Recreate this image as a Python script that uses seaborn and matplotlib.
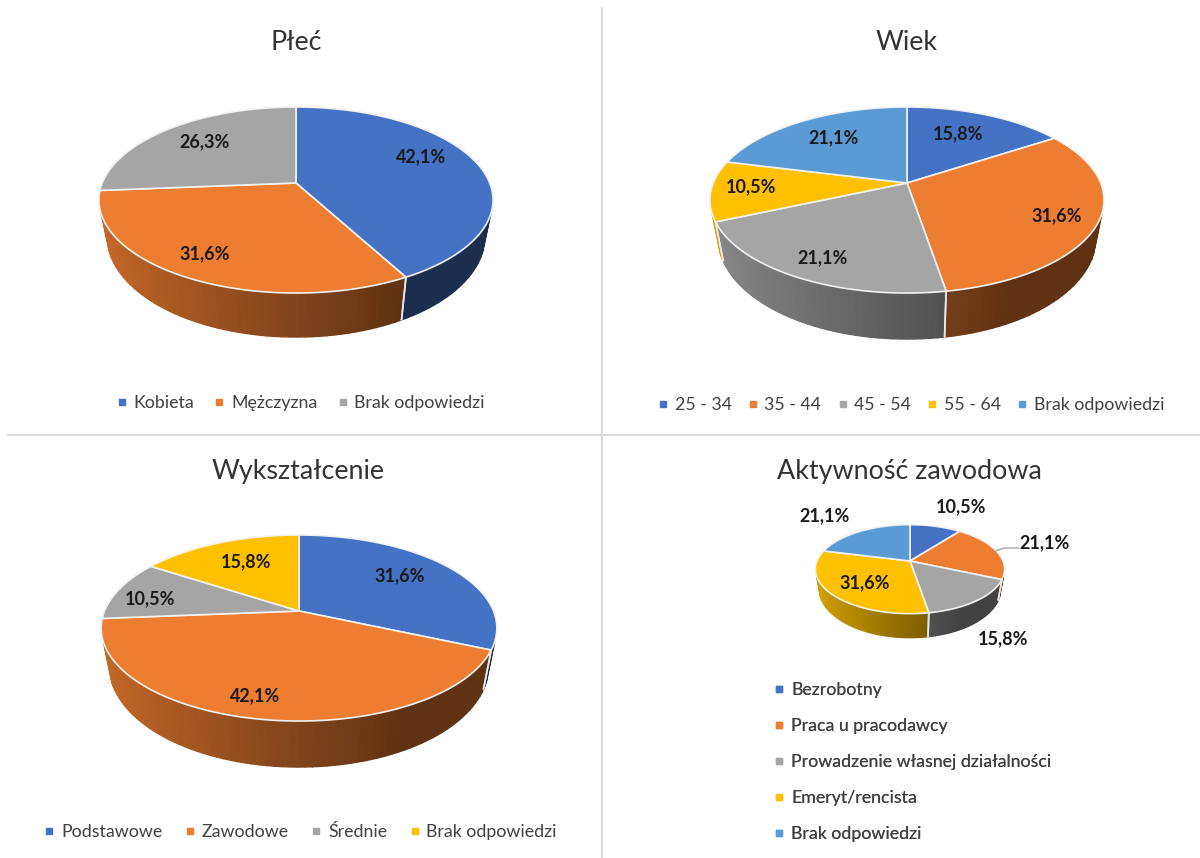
import numpy as np
import seaborn as sns
import matplotlib.pyplot as plt
from matplotlib.lines import Line2D

sns.set_theme(style='white')
plt.rcParams['font.family'] = ['Lato', 'DejaVu Sans']

# dane
plec_labels = ['Kobieta', 'Mężczyzna', 'Brak odpowiedzi']
plec_values = [42.1, 31.6, 26.3]
wiek_labels = ['25 - 34', '35 - 44', '45 - 54', '55 - 64', 'Brak odpowiedzi']
wiek_values = [15.8, 31.6, 21.1, 10.5, 21.1]
wyksz_labels = ['Podstawowe', 'Zawodowe', 'Średnie', 'Brak odpowiedzi']
wyksz_values = [31.6, 42.1, 10.5, 15.8]
aktyw_labels = ['Bezrobotny', 'Praca u pracodawcy', 'Prowadzenie własnej działalności',
                'Emeryt/rencista', 'Brak odpowiedzi']
aktyw_values = [10.5, 21.1, 15.8, 31.6, 21.1]

palette = sns.color_palette(['#4472C4', '#ED7D31', '#A5A5A5', '#FFC000', '#5B9BD5'])
k = 0.183  # perspektywa
side_lim = np.radians(109)  # od tego kata widac bok


def project(theta, cx, cy, rx, ry):
    u = np.sin(theta)
    v = np.cos(theta)
    f = 1 / (1 + k * v)
    return cx + rx * u * f, cy - ry * v * f


def rim(theta, cx, cy, rx, ry, depth):
    # dolna krawedz boku jest troche wezsza
    x, y = project(theta, cx, cy, rx, ry)
    return cx + (x - cx) * 0.96, y + depth * (0.75 - 0.25 * np.cos(theta))


def shade(col, u):
    s = max(0.4, 0.85 - 0.45 * (u + 1) / 1.45)
    return tuple(c * s for c in col)


def pie3d(ax, values, cx, cy, rx, ry, depth):
    ends = np.cumsum(values) / np.sum(values) * 2 * np.pi
    starts = np.r_[0, ends[:-1]]
    # bok
    for i, (a, b) in enumerate(zip(starts, ends)):
        lo, hi = max(a, side_lim), min(b, 2 * np.pi - side_lim)
        if hi > lo:
            t = np.linspace(lo, hi, int((hi - lo) * 30) + 2)
            for t0, t1 in zip(t[:-1], t[1:]):
                x0, y0 = project(t0, cx, cy, rx, ry)
                x1, y1 = project(t1, cx, cy, rx, ry)
                x2, y2 = rim(t1, cx, cy, rx, ry, depth)
                x3, y3 = rim(t0, cx, cy, rx, ry, depth)
                c = shade(palette[i], np.sin((t0 + t1) / 2))
                ax.fill([x0, x1, x2, x3], [y0, y1, y2, y3], color=c, lw=1.0, zorder=2)
        # biala linia na granicy
        for e in (a, b):
            if side_lim < e < 2 * np.pi - side_lim:
                x0, y0 = project(e, cx, cy, rx, ry)
                x1, y1 = rim(e, cx, cy, rx, ry, depth)
                ax.plot([x0, x1], [y0, y1], color='#e8e8e8', lw=1.2, zorder=3)
    # gora
    for i, (a, b) in enumerate(zip(starts, ends)):
        t = np.linspace(a, b, 120)
        x, y = project(t, cx, cy, rx, ry)
        ax.fill(np.r_[cx, x], np.r_[cy, y], facecolor=palette[i], edgecolor='#f2f2f2', lw=1.2,
                joinstyle='round', zorder=4)


def data_labels(ax, values, pos, size=13):
    for v, (x, y) in zip(values, pos):
        ax.text(x, y, f'{v:.1f}%'.replace('.', ','), ha='center', va='center', fontsize=size,
                fontweight='bold', color='#1a1a1a', zorder=6)


def legend(ax, labels, colors, anchor, ncol, loc='center', **kw):
    handles = [Line2D([], [], ls='', marker='s', ms=4.8, color=c) for c in colors]
    leg = ax.legend(handles, labels, loc=loc, bbox_to_anchor=anchor, bbox_transform=ax.transData,
                    ncol=ncol, frameon=False, fontsize=12.8, labelcolor='#404040',
                    handlelength=0.6, handletextpad=0.35, borderpad=0, borderaxespad=0, **kw)
    ax.add_artist(leg)


fig = plt.figure(figsize=(12, 8.58), dpi=100)
ax = fig.add_axes([0, 0, 1, 1])
ax.set_xlim(0, 1200)
ax.set_ylim(858, 0)
ax.axis('off')

# linie podzialu
ax.plot([602, 602], [8, 858], color='#d9d9d9', lw=1.5)
ax.plot([8, 1200], [435, 435], color='#d9d9d9', lw=1.5)

pie3d(ax, plec_values, 296, 183, 193.7, 89.9, 44)
pie3d(ax, wiek_values, 907, 183, 193.7, 89.9, 46)
pie3d(ax, wyksz_values, 299, 611, 194.5, 89.9, 46)
pie3d(ax, aktyw_values, 910, 561, 93, 43, 24)

for title, x, y in [('Płeć', 296, 43), ('Wiek', 907, 43), ('Wykształcenie', 298, 471.5),
                    ('Aktywność zawodowa', 909, 472)]:
    ax.text(x, y, title, ha='center', va='center', fontsize=19.4, color='#333333')

data_labels(ax, plec_values, [(421, 157), (205, 254), (205, 142)])
data_labels(ax, wiek_values, [(958, 134), (1057, 216), (823, 258), (751, 187), (834, 138)])
data_labels(ax, wyksz_values, [(400, 576), (255, 696), (150, 599), (246, 562)])
data_labels(ax, aktyw_values, [(961, 507), (1045, 543), (1003, 639), (865, 583), (825, 516)])
ax.plot([996, 1004, 1019], [551, 548, 548], color='#a6a6a6', lw=1, zorder=5)

legend(ax, plec_labels, palette[:3], (300.5, 403), 3, columnspacing=1.13)
legend(ax, wiek_labels, palette[:5], (911, 405), 5, columnspacing=0.9)
legend(ax, wyksz_labels, palette[:4], (300.5, 832), 4, columnspacing=1.26)
legend(ax, aktyw_labels, palette[:5], (774, 762), 1, loc='center left', labelspacing=1.13)

fig.savefig('out.png', dpi=100, facecolor='white')
